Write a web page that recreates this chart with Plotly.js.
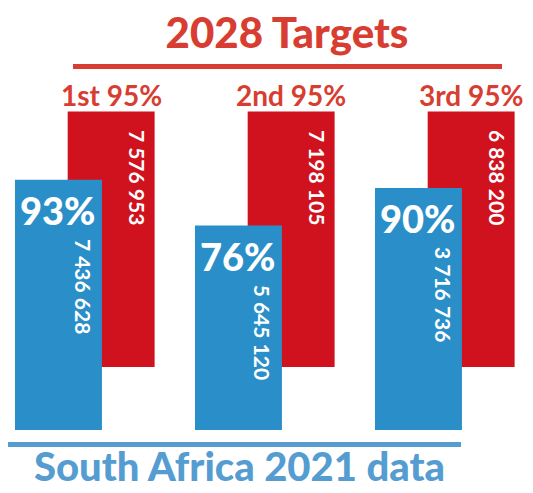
<!DOCTYPE html>
<html>
<head>
<meta charset="utf-8">
<script src="https://cdn.plot.ly/plotly-3.0.1.min.js"></script>
<style>html,body{margin:0;padding:0;background:#fff;}#chart{width:533px;height:493px;}</style>
</head>
<body>
<div id="chart"></div>
<script>
// ---- data ----
const categories = ['1st 95%', '2nd 95%', '3rd 95%'];
const targetPct = [95, 95, 95];
const targetCount = [7576953, 7198105, 6838200];
const actualPct = [93, 76, 90];
const actualCount = [7436628, 5645120, 3716736];
const titleTop = '2028 Targets';
const titleBottom = 'South Africa 2021 data';

// ---- styling / layout ----
const W = 533, H = 493;
const RED = '#d0121e', BLUE = '#2a8fc8';
const TITLE_RED = '#d83d31', TITLE_BLUE = '#559dd1';
const FONT = 'Lato, "Open Sans", sans-serif';
const barW = 0.483;
const blueOff = -0.2417;
const redOff = 0.051;
const redBase = 23.4;
const fmt = n => String(n).replace(/\B(?=(\d{3})+(?!\d))/g, ' ');

const traces = [
  {type: 'bar', x: categories, y: targetPct, base: redBase, width: barW, offset: redOff,
   marker: {color: RED, line: {width: 0}}, hoverinfo: 'skip'},
  {type: 'bar', x: categories, y: actualPct, base: 0, width: barW, offset: blueOff,
   marker: {color: BLUE, line: {width: 0}}, hoverinfo: 'skip'}
];

const ann = [];
categories.forEach((c, i) => {
  // category label above target bar
  ann.push({x: i + redOff + barW / 2, y: redBase + targetPct[i], xref: 'x', yref: 'y',
    text: '<b>' + c + '</b>', showarrow: false, xanchor: 'center', yanchor: 'middle', yshift: 17,
    font: {family: FONT, size: 28, color: TITLE_RED, weight: 900}});
  // target count (rotated)
  ann.push({x: i + redOff + barW, y: redBase + targetPct[i], xref: 'x', yref: 'y',
    text: fmt(targetCount[i]), showarrow: false, textangle: 90, xanchor: 'center', yanchor: 'middle',
    xshift: -17, yshift: -66, font: {family: FONT, size: 21, color: '#ffffff', weight: 700}});
  // actual percent
  ann.push({x: i + blueOff + barW / 2, y: actualPct[i], xref: 'x', yref: 'y',
    text: actualPct[i] + '%', showarrow: false, xanchor: 'center', yanchor: 'middle', yshift: -30,
    font: {family: FONT, size: 38, color: '#ffffff', weight: 900}});
  // actual count (rotated)
  ann.push({x: i + blueOff + barW, y: actualPct[i], xref: 'x', yref: 'y',
    text: fmt(actualCount[i]), showarrow: false, textangle: 90, xanchor: 'center', yanchor: 'middle',
    xshift: -19, yshift: -107, font: {family: FONT, size: 21, color: '#ffffff', weight: 700}});
});
ann.push({x: 239 / W, y: 0, xref: 'paper', yref: 'paper', text: titleBottom, showarrow: false,
  xanchor: 'center', yanchor: 'bottom', yshift: 1,
  font: {family: FONT, size: 40, color: TITLE_BLUE, weight: 900}});

const layout = {
  width: W, height: H,
  margin: {l: 0, r: 0, t: 0, b: 0, pad: 0},
  paper_bgcolor: '#ffffff', plot_bgcolor: '#ffffff',
  showlegend: false,
  barmode: 'overlay',
  title: {text: titleTop, x: 287 / W, xanchor: 'center', y: 1 - 33 / H, yanchor: 'middle', yref: 'container',
    font: {family: FONT, size: 42, color: TITLE_RED, weight: 900}},
  xaxis: {type: 'category', visible: false, range: [-0.325, -0.325 + W / 180], fixedrange: true},
  yaxis: {visible: false, range: [-23.42, 159.85], fixedrange: true},
  shapes: [
    {type: 'line', xref: 'paper', yref: 'paper', x0: 73 / W, x1: 502 / W, y0: 1 - 66.5 / H, y1: 1 - 66.5 / H,
     line: {color: TITLE_RED, width: 5}},
    {type: 'line', xref: 'paper', yref: 'paper', x0: 8 / W, x1: 461 / W, y0: 1 - 444.5 / H, y1: 1 - 444.5 / H,
     line: {color: TITLE_BLUE, width: 5}}
  ],
  annotations: ann
};

Plotly.newPlot('chart', traces, layout, {staticPlot: true, displayModeBar: false});
</script>
</body>
</html>
